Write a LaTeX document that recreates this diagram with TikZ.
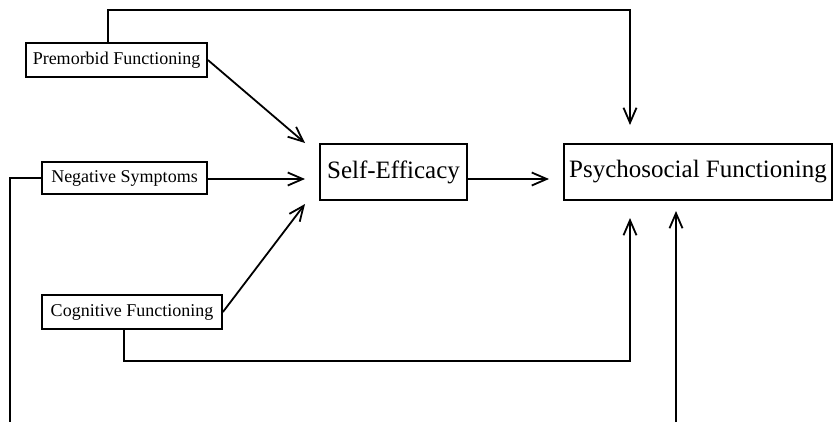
\documentclass[tikz,border=0pt]{standalone}
\usepackage{fontspec}
\setmainfont{Liberation Serif}
\usetikzlibrary{arrows.meta}
\begin{document}
\begin{tikzpicture}[x=1bp,y=-1bp,
  line width=1.8bp,
  smallbox/.style={draw,rectangle,inner sep=0pt,font=\fontsize{18bp}{20bp}\selectfont},
  bigbox/.style={draw,rectangle,inner sep=0pt,font=\fontsize{25bp}{28bp}\selectfont},
  arr/.style={-{Straight Barb[length=15bp,width=13bp,line width=1.8bp]}}]
\useasboundingbox (0,0) rectangle (834,422);
\node[smallbox,minimum width=181bp,minimum height=34bp] (pre) at (116.5,60) {Premorbid Functioning};
\node[smallbox,minimum width=165bp,minimum height=32bp] (neg) at (124.5,178) {Negative Symptoms};
\node[smallbox,minimum width=180bp,minimum height=34bp] (cog) at (132,312) {Cognitive Functioning};
\node[bigbox,minimum width=147bp,minimum height=56bp] (se) at (393.5,172) {Self-Efficacy};
\node[bigbox,minimum width=268bp,minimum height=56bp] (psy) at (698,172) {Psychosocial Functioning};
% coordinates
\coordinate (t1) at (305,143);
\coordinate (t2) at (305,179);
\coordinate (t3) at (305,204);
\coordinate (t4) at (549,179);
\coordinate (tt) at (630,125);
\coordinate (tb) at (630,218);
\coordinate (tr) at (676,211);
\coordinate (bl) at (10,422);
\coordinate (br) at (676,422);
% connectors
\draw[arr] (pre.east) -- (t1);
\draw[arr] (neg.east |- t2) -- (t2);
\draw[arr] (cog.east) -- (t3);
\draw[arr] (se.east |- t4) -- (t4);
\draw[arr] (pre.north -| 108,0) -- (108,10) -- (630,10) -- (tt);
\draw[arr] (cog.south -| 124,0) -- (124,361) -- (630,361) -- (tb);
\draw (neg.west) -- (10,178) -- (bl);
\draw[arr] (br) -- (tr);
\end{tikzpicture}
\end{document}
